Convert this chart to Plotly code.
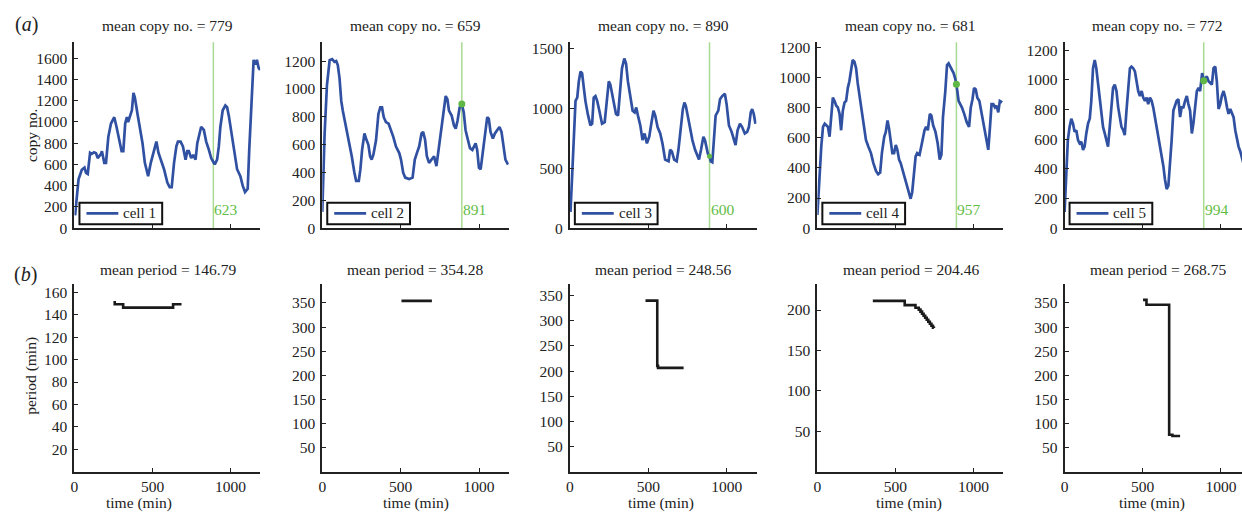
import plotly.graph_objects as go

# ---------------- data ----------------
cell_names = ["cell 1", "cell 2", "cell 3", "cell 4", "cell 5"]
mean_copy = [779, 659, 890, 681, 772]
mean_period = ["146.79", "354.28", "248.56", "204.46", "268.75"]

mark_time = 890
mark_value = [623, 891, 600, 957, 994]
mark_size = [0, 7, 5, 7, 7]

cell1_time = [4, 26, 47, 64, 74, 85, 100, 111, 125, 138,
              149, 170, 176, 191, 202, 217, 234, 255, 270, 287,
              302, 313, 325, 336, 344, 357, 368, 378, 387, 404,
              421, 436, 451, 472, 489, 510, 525, 538, 553, 574,
              595, 610, 623, 638, 653, 663, 680, 695, 712, 723,
              733, 748, 761, 776, 787, 797, 812, 829, 844, 861,
              876, 890, 899, 914, 925, 935, 950, 967, 978, 989,
              1004, 1021, 1042, 1063, 1078, 1093, 1110, 1120, 1133, 1148,
              1159, 1169, 1180, 1190]
cell1_copy = [120, 460, 550, 570, 520, 510, 710, 700, 715, 705,
              660, 700, 725, 615, 615, 860, 985, 1045, 950, 830,
              725, 725, 985, 1045, 1000, 1060, 1110, 1275, 1230, 1075,
              920, 800, 615, 490, 615, 725, 815, 710, 645, 555,
              430, 385, 385, 615, 770, 815, 815, 770, 645, 725,
              725, 660, 690, 645, 800, 860, 955, 925, 815, 740,
              660, 623, 600, 645, 770, 955, 1110, 1155, 1140, 1060,
              925, 740, 555, 490, 400, 340, 370, 740, 1200, 1585,
              1540, 1585, 1510, 1490]

cell2_time = [0, 15, 30, 47, 63, 78, 89, 99, 110, 121,
              131, 142, 157, 174, 188, 205, 216, 233, 243, 254,
              269, 279, 294, 305, 315, 326, 343, 358, 370, 381,
              392, 406, 423, 438, 453, 470, 491, 502, 516, 529,
              554, 576, 590, 607, 618, 633, 643, 656, 667, 681,
              698, 713, 728, 745, 762, 777, 787, 798, 808, 825,
              840, 851, 863, 876, 890, 902, 914, 929, 942, 957,
              967, 978, 988, 999, 1010, 1020, 1035, 1052, 1062, 1073,
              1088, 1101, 1115, 1130, 1143, 1158, 1168, 1185]
cell2_copy = [117, 680, 1030, 1207, 1214, 1195, 1200, 1172, 1078, 914,
              844, 785, 703, 609, 516, 398, 340, 340, 422, 562,
              680, 644, 598, 516, 492, 527, 633, 820, 867, 867,
              797, 762, 750, 703, 656, 586, 539, 492, 398, 363,
              352, 363, 492, 551, 586, 680, 691, 633, 516, 469,
              492, 516, 445, 586, 703, 867, 949, 926, 844, 809,
              738, 715, 773, 867, 891, 832, 703, 633, 574, 562,
              586, 609, 562, 434, 422, 516, 680, 797, 785, 691,
              644, 680, 703, 726, 691, 586, 492, 457]

cell3_time = [4, 15, 25, 36, 47, 57, 68, 78, 89, 99,
              114, 131, 142, 152, 163, 174, 188, 205, 222, 237,
              248, 258, 269, 279, 294, 307, 317, 332, 347, 358,
              370, 385, 400, 413, 423, 434, 449, 463, 476, 491,
              506, 519, 533, 544, 559, 576, 590, 607, 629, 639,
              650, 665, 681, 692, 707, 720, 730, 739, 751, 766,
              781, 798, 815, 823, 836, 851, 861, 872, 880, 890,
              898, 908, 918, 929, 946, 957, 971, 988, 999, 1014,
              1031, 1041, 1056, 1069, 1084, 1098, 1115, 1130, 1141, 1153,
              1162, 1172, 1183]
cell3_copy = [136, 464, 791, 1064, 1091, 1227, 1309, 1295, 1173, 1064,
              955, 859, 873, 1091, 1104, 1064, 982, 873, 886, 1091,
              1227, 1200, 1118, 1077, 955, 941, 1091, 1336, 1418, 1377,
              1227, 1091, 982, 968, 1009, 941, 859, 736, 791, 709,
              764, 873, 982, 941, 845, 791, 709, 573, 559, 655,
              641, 573, 559, 655, 845, 995, 1050, 1023, 941, 832,
              736, 655, 600, 573, 655, 764, 736, 682, 620, 600,
              559, 551, 709, 941, 982, 1077, 1104, 1124, 1036, 859,
              805, 764, 695, 818, 873, 845, 791, 805, 845, 968,
              995, 955, 873]

cell4_time = [0, 15, 25, 36, 47, 57, 68, 78, 89, 99,
              110, 121, 131, 142, 152, 163, 174, 184, 195, 205,
              216, 226, 237, 248, 258, 269, 279, 294, 311, 326,
              343, 358, 375, 389, 402, 413, 428, 438, 449, 459,
              470, 480, 491, 502, 512, 523, 533, 550, 565, 580,
              597, 607, 618, 629, 639, 654, 665, 675, 686, 696,
              707, 720, 730, 741, 756, 770, 783, 794, 804, 819,
              830, 840, 851, 861, 872, 881, 890, 904, 914, 925,
              940, 956, 971, 982, 993, 1003, 1014, 1024, 1037, 1052,
              1067, 1084, 1094, 1105, 1115, 1126, 1137, 1147, 1158, 1168,
              1183]
cell4_copy = [87, 369, 543, 673, 694, 684, 673, 608, 760, 868,
              846, 814, 803, 760, 651, 781, 836, 846, 933, 977,
              1052, 1118, 1107, 1063, 966, 890, 803, 694, 586, 543,
              499, 434, 380, 358, 369, 499, 608, 640, 716, 662,
              564, 499, 499, 553, 521, 456, 434, 369, 304, 250,
              195, 239, 369, 477, 499, 488, 543, 608, 651, 673,
              651, 760, 749, 684, 640, 564, 456, 488, 738, 911,
              1085, 1096, 1074, 1063, 1031, 1000, 957, 846, 825, 803,
              760, 705, 673, 803, 857, 933, 922, 868, 846, 760,
              673, 586, 521, 673, 825, 825, 803, 814, 770, 846,
              836]

cell5_time = [0, 11, 21, 32, 43, 54, 64, 75, 86, 96,
              107, 118, 128, 139, 150, 161, 171, 182, 193, 203,
              214, 225, 236, 246, 257, 268, 278, 289, 300, 310,
              321, 332, 343, 353, 364, 375, 385, 396, 407, 418,
              428, 439, 450, 460, 471, 482, 493, 503, 514, 525,
              535, 546, 557, 567, 578, 589, 600, 610, 621, 632,
              642, 653, 664, 675, 685, 696, 707, 717, 728, 739,
              749, 760, 771, 782, 792, 803, 814, 824, 835, 846,
              857, 867, 880, 890, 899, 910, 921, 931, 942, 953,
              964, 974, 985, 996, 1006, 1017, 1028, 1039, 1049, 1060,
              1071, 1081, 1092, 1103, 1113, 1124, 1135, 1146]
cell5_copy = [110, 330, 594, 683, 738, 705, 650, 661, 594, 572,
              583, 528, 550, 639, 705, 738, 859, 1079, 1134, 1079,
              969, 881, 793, 683, 639, 594, 550, 683, 815, 947,
              969, 925, 815, 749, 683, 661, 627, 793, 969, 1079,
              1090, 1079, 1057, 991, 925, 892, 925, 881, 859, 881,
              837, 881, 859, 815, 749, 683, 594, 528, 484, 418,
              330, 264, 286, 418, 594, 793, 837, 859, 870, 749,
              815, 815, 859, 892, 837, 793, 639, 705, 815, 925,
              947, 925, 1046, 994, 1010, 1024, 991, 980, 969, 1079,
              1090, 991, 804, 837, 892, 925, 881, 815, 771, 804,
              771, 749, 661, 594, 550, 517, 462, 429]

# estimated oscillation period (min), step-wise in time
period1_time = [258, 258, 312, 632, 686]
period1_value = [152.5, 149.5, 146.5, 149.5, 149.5]
period2_time = [505, 699]
period2_value = [354.3, 354.3]
period3_time = [482, 557, 562, 725]
period3_value = [340.3, 210.5, 206.5, 206.5]
period4_time = [355, 559, 628, 649, 660, 670, 680, 690, 700, 710, 720, 730, 740, 746]
period4_value = [211.4, 206.1, 202.8, 200.5, 198, 195.5, 193, 190.5, 188, 185.5, 183, 180.5, 178, 177.7]
period5_time = [502, 524, 669, 690, 739]
period5_value = [356.5, 346.5, 76.5, 73.8, 73.8]

copy_ticks = [
    [0, 200, 400, 600, 800, 1000, 1200, 1400, 1600],
    [0, 200, 400, 600, 800, 1000, 1200],
    [0, 500, 1000, 1500],
    [0, 200, 400, 600, 800, 1000, 1200],
    [0, 200, 400, 600, 800, 1000, 1200],
]
period_ticks = [
    [20, 40, 60, 80, 100, 120, 140, 160],
    [50, 100, 150, 200, 250, 300, 350],
    [50, 100, 150, 200, 250, 300, 350],
    [50, 100, 150, 200],
    [50, 100, 150, 200, 250, 300, 350],
]
time_ticks = [0, 500, 1000]

copy_series = [(cell1_time, cell1_copy), (cell2_time, cell2_copy), (cell3_time, cell3_copy),
               (cell4_time, cell4_copy), (cell5_time, cell5_copy)]
period_series = [(period1_time, period1_value), (period2_time, period2_value),
                 (period3_time, period3_value), (period4_time, period4_value),
                 (period5_time, period5_value)]

# ---------------- layout geometry (pixels) ----------------
W, H = 1242, 519
panel_left = [70.7, 319.3, 567.7, 816.0, 1064.0]
panel_right = [257.0, 506.5, 755.0, 1002.5, 1242.0]
top_row = (40.0, 230.0)
bottom_row = (287.3, 478.7)
time_range = [[0, 1190]] * 4 + [[0, 1135]]
copy_range = [[0, 1752], [0, 1336], [0, 1555], [0, 1237], [0, 1255]]
period_range = [[0, 167.4], [0, 389], [0, 373], [0, 232], [0, 389]]
time_title_x = [135, 413, 659, 908, 1152]
legend_w, legend_top, legend_bottom = 83, 204, 226

FONT = "Liberation Serif"
INK = "#222222"
BLUE = "#3050a2"
GREEN_LINE = "#a8da92"
GREEN_TEXT = "#62bd45"
GREEN_DOT = "#5fb846"
FS = 15.5


def px_x(v):
    return v / W


def px_y(v):
    return (H - v) / H


def sfx(n):
    return "" if n == 1 else str(n)


fig = go.Figure()
layout = dict(
    width=W, height=H,
    margin=dict(l=0, r=0, t=0, b=0),
    paper_bgcolor="white", plot_bgcolor="white",
    font=dict(family=FONT, size=FS, color=INK),
    showlegend=False,
    shapes=[], annotations=[],
)

axis_common = dict(
    showline=True, linecolor=INK, linewidth=2,
    ticks="inside", ticklen=4, tickwidth=1, tickcolor=INK,
    showgrid=False, zeroline=False, mirror=False,
    tickfont=dict(family=FONT, size=FS, color=INK),
)

for i in range(5):
    top = sfx(i + 1)
    bot = sfx(i + 6)
    xdom = [px_x(panel_left[i]), px_x(panel_right[i])]
    centre = px_x(panel_left[i] + 93.5)

    # --- copy number panel ---
    layout[f"xaxis{top}"] = dict(axis_common, domain=xdom, range=time_range[i],
                                 anchor=f"y{top}", tickvals=[500, 1000],
                                 showticklabels=False)
    layout[f"yaxis{top}"] = dict(axis_common, domain=[px_y(top_row[1]), px_y(top_row[0])],
                                 range=copy_range[i], anchor=f"x{top}",
                                 tickvals=copy_ticks[i], ticklabelstandoff=2)
    t, c = copy_series[i]
    fig.add_trace(go.Scatter(
        x=t, y=c, mode="lines", name=cell_names[i],
        line=dict(color=BLUE, width=2.7),
        xaxis=f"x{top}", yaxis=f"y{top}",
    ))
    if mark_size[i] > 0:
        fig.add_trace(go.Scatter(
            x=[mark_time], y=[mark_value[i]], mode="markers",
            marker=dict(color=GREEN_DOT, size=mark_size[i]),
            xaxis=f"x{top}", yaxis=f"y{top}",
        ))
    layout["shapes"].append(dict(
        type="line", xref=f"x{top}", yref=f"y{top} domain",
        x0=mark_time, x1=mark_time, y0=0, y1=1,
        line=dict(color=GREEN_LINE, width=1.5), layer="below",
    ))
    layout["annotations"].append(dict(
        xref=f"x{top}", yref=f"y{top} domain", x=mark_time, y=0.1,
        xanchor="left", yanchor="middle", xshift=-1, showarrow=False,
        text=str(mark_value[i]), font=dict(family=FONT, size=FS, color=GREEN_TEXT),
    ))
    layout["annotations"].append(dict(
        xref="paper", yref="paper", x=centre, y=px_y(23),
        xanchor="center", yanchor="middle", showarrow=False,
        text=f"mean copy no. = {mean_copy[i]}",
        font=dict(family=FONT, size=FS, color=INK),
    ))

    # legend box: frame, line sample and label
    lx = panel_left[i] + 5
    layout["shapes"].append(dict(
        type="rect", xref="paper", yref="paper",
        x0=px_x(lx), x1=px_x(lx + legend_w), y0=px_y(legend_bottom), y1=px_y(legend_top),
        line=dict(color="#111111", width=2), fillcolor="white", layer="above",
    ))
    ymid = px_y((legend_top + legend_bottom) / 2)
    layout["shapes"].append(dict(
        type="line", xref="paper", yref="paper",
        x0=px_x(lx + 7), x1=px_x(lx + 39), y0=ymid, y1=ymid,
        line=dict(color=BLUE, width=2.7), layer="above",
    ))
    layout["annotations"].append(dict(
        xref="paper", yref="paper", x=px_x(lx + 42), y=ymid,
        xanchor="left", yanchor="middle", showarrow=False,
        text=cell_names[i], font=dict(family=FONT, size=15, color=INK),
    ))

    # --- period panel ---
    layout[f"xaxis{bot}"] = dict(axis_common, domain=xdom, range=time_range[i],
                                 anchor=f"y{bot}", tickvals=time_ticks,
                                 ticklabelstandoff=0)
    layout[f"yaxis{bot}"] = dict(axis_common, domain=[px_y(bottom_row[1]), px_y(bottom_row[0])],
                                 range=period_range[i], anchor=f"x{bot}",
                                 tickvals=period_ticks[i], ticklabelstandoff=2)
    pt, pv = period_series[i]
    fig.add_trace(go.Scatter(
        x=pt, y=pv, mode="lines", line_shape="hv",
        line=dict(color="#1a1a1a", width=2.6),
        xaxis=f"x{bot}", yaxis=f"y{bot}",
    ))
    layout["annotations"].append(dict(
        xref="paper", yref="paper", x=centre, y=px_y(272),
        xanchor="center", yanchor="middle", showarrow=False,
        text=f"mean period = {mean_period[i]}",
        font=dict(family=FONT, size=FS, color=INK),
    ))
    layout["annotations"].append(dict(
        xref="paper", yref="paper", x=px_x(time_title_x[i]), y=0,
        xanchor="center", yanchor="bottom", yshift=-3, showarrow=False,
        text="time (min)", font=dict(family=FONT, size=FS, color=INK),
    ))

# row labels and y-axis titles
layout["annotations"] += [
    dict(xref="paper", yref="paper", x=px_x(23), y=px_y(22), showarrow=False,
         xanchor="center", yanchor="middle", text="(<i>a</i>)",
         font=dict(family=FONT, size=20, color=INK)),
    dict(xref="paper", yref="paper", x=px_x(22), y=px_y(277), showarrow=False,
         xanchor="center", yanchor="middle", text="(<i>b</i>)",
         font=dict(family=FONT, size=20, color=INK)),
    dict(xref="paper", yref="paper", x=px_x(27), y=px_y(135), showarrow=False,
         xanchor="center", yanchor="middle", text="copy no.", textangle=-90,
         font=dict(family=FONT, size=FS, color=INK)),
    dict(xref="paper", yref="paper", x=px_x(27), y=px_y(381), showarrow=False,
         xanchor="center", yanchor="middle", text="period (min)", textangle=-90,
         font=dict(family=FONT, size=FS, color=INK)),
]

fig.update_layout(**layout)
fig.write_html("out.html")
